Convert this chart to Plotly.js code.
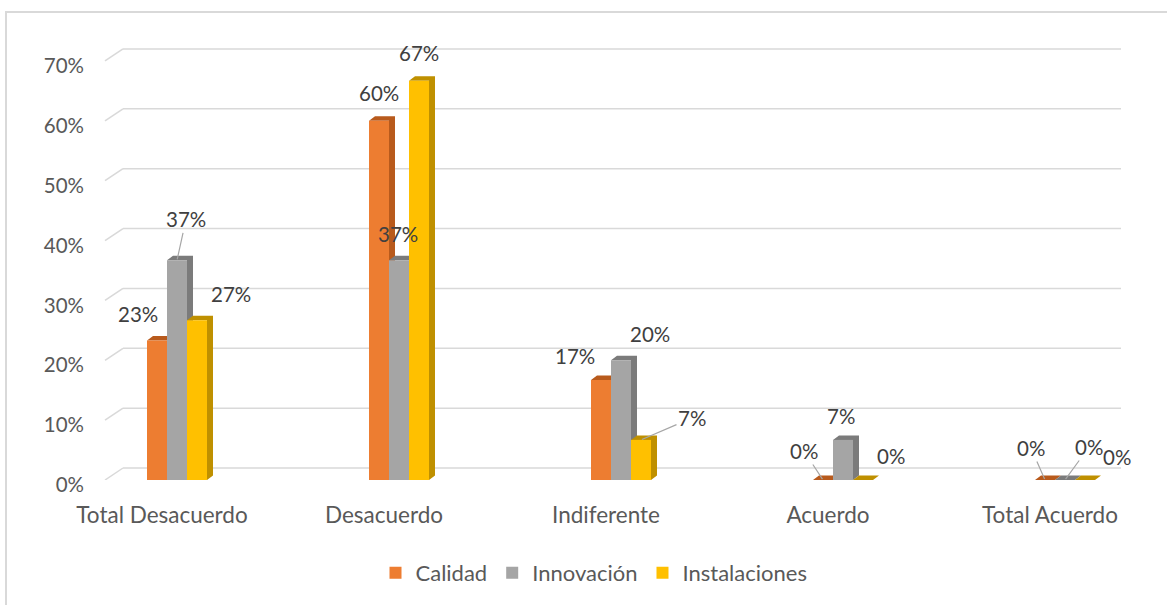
<!DOCTYPE html>
<html><head><meta charset="utf-8">
<script src="https://cdn.plot.ly/plotly-3.0.1.min.js"></script>
<style>
html,body{margin:0;padding:0;background:#fff;overflow:hidden}
#chart{position:absolute;left:0;top:0;width:1167px;height:605px}
#frame{position:absolute;left:5px;top:11px;width:1200px;height:700px;border:2px solid #d9d9d9;box-sizing:border-box;pointer-events:none}
</style></head><body>
<div id="chart"></div><div id="frame"></div>
<script>
// ---- data ----
const categories = ['Total Desacuerdo', 'Desacuerdo', 'Indiferente', 'Acuerdo', 'Total Acuerdo'];
const seriesNames = ['Calidad', 'Innovación', 'Instalaciones'];
const calidad = [0.233, 0.600, 0.167, 0.000, 0.000];
const innovacion = [0.367, 0.367, 0.200, 0.067, 0.000];
const instalaciones = [0.267, 0.667, 0.067, 0.000, 0.000];
const yTicks = [0, 0.1, 0.2, 0.3, 0.4, 0.5, 0.6, 0.7];

// ---- styling ----
const seriesValues = [calidad, innovacion, instalaciones];
const frontColors = ['#ED7D31', '#A5A5A5', '#FFC000'];
const sideColors = ['#B85A1C', '#7B7B7B', '#BF9000'];
// label offsets in px [dx, dy(down)], and whether a leader line is drawn
const labelOffsets = [
  [[-19, -27], [0, -28], [-26, -24], [-19, -29], [-14, -32]],
  [[9, -41], [-1, -26], [29, -26], [-2, -24], [24, -33]],
  [[34, -26], [0, -28], [51, -22], [28, -24], [32, -23]]
];
const leader = [
  [false, false, false, true, true],
  [true, false, false, false, true],
  [false, false, true, false, false]
];

const L = 105, R = 64, B = 124, T = 33;
const plotW = 1167 - L - R;          // 998
const plotH = 605 - T - B;           // 448
const pxPerUnitY = 600;
const pxPerCat = 222;
const barPx = 20;
const depthX = 6, depthYpx = 4.5;
const gridDX = 18, gridDY = 12;
const xMin = -72 / pxPerCat;
const xMax = xMin + plotW / pxPerCat;
const yMax = plotH / pxPerUnitY;
const barW = barPx / pxPerCat;
const depthY = depthYpx / pxPerUnitY;

const font = 'Lato, "Open Sans", sans-serif';
const xIdx = categories.map((c, i) => i);

const traces = seriesNames.map((name, s) => ({
  type: 'bar',
  name: name,
  x: xIdx,
  y: seriesValues[s],
  marker: {color: frontColors[s], line: {width: 0}},
  hoverinfo: 'skip'
}));

const shapes = [];
// gridlines on the back wall plus the short diagonal on the left side wall
yTicks.forEach(v => {
  shapes.push({type: 'line', layer: 'below', xref: 'paper', yref: 'y',
    xsizemode: 'pixel', xanchor: 0, ysizemode: 'pixel', yanchor: v,
    x0: gridDX, x1: gridDX + plotW, y0: gridDY, y1: gridDY,
    line: {color: '#d9d9d9', width: 1.5}});
  shapes.push({type: 'line', layer: 'below', xref: 'paper', yref: 'y',
    xsizemode: 'pixel', xanchor: 0, ysizemode: 'pixel', yanchor: v,
    x0: 0, x1: gridDX, y0: 0, y1: gridDY,
    line: {color: '#d9d9d9', width: 1.5}});
});
// 3D side + top faces of each bar
seriesValues.forEach((vals, s) => {
  vals.forEach((v, i) => {
    const xr = i + (s - 1) * barW + barW / 2;
    const path = `M0,0 L0,${v} L${-barPx},${v} L${-barPx + depthX},${v + depthY} L${depthX},${v + depthY} L${depthX},${depthY} Z`;
    shapes.push({type: 'path', layer: 'below', xref: 'x', yref: 'y',
      xsizemode: 'pixel', xanchor: xr, path: path,
      fillcolor: sideColors[s], line: {width: 0}});
  });
});

const annotations = [];
seriesValues.forEach((vals, s) => {
  vals.forEach((v, i) => {
    const xc = i + (s - 1) * barW;
    const [dx, dy] = labelOffsets[s][i];
    const a = {x: xc, y: v, xref: 'x', yref: 'y',
      text: Math.round(v * 100) + '%',
      font: {family: font, size: 20.5, color: '#404040'}};
    if (leader[s][i]) {
      Object.assign(a, {showarrow: true, arrowhead: 0, arrowwidth: 1.2,
        arrowcolor: '#a6a6a6', ax: dx, ay: dy, standoff: 1});
    } else {
      Object.assign(a, {showarrow: false, xshift: dx, yshift: -dy});
    }
    annotations.push(a);
  });
});

const layout = {
  width: 1167, height: 605,
  margin: {l: L, r: R, t: T, b: B, pad: 0},
  paper_bgcolor: '#ffffff', plot_bgcolor: 'rgba(0,0,0,0)',
  barmode: 'group', bargap: 1 - 3 * barPx / pxPerCat, bargroupgap: 0,
  font: {family: font, size: 20, color: '#595959'},
  xaxis: {range: [xMin, xMax], tickvals: xIdx, ticktext: categories,
    showgrid: false, zeroline: false, showline: false, ticks: '',
    ticklabelstandoff: 19, ticklabelshift: -15,
    tickfont: {family: font, size: 22.5, color: '#595959'}, fixedrange: true},
  yaxis: {range: [0, yMax], tickvals: yTicks, tickformat: '.0%',
    showgrid: false, zeroline: false, showline: false, ticks: '',
    ticklabelstandoff: 20, ticklabelshift: 5,
    tickfont: {family: font, size: 20.5, color: '#595959'}, fixedrange: true},
  legend: {orientation: 'h', x: (594 - L) / plotW, xanchor: 'center',
    y: (481 - 573) / plotH, yanchor: 'middle',
    font: {family: font, size: 22, color: '#595959'}, traceorder: 'normal'},
  shapes: shapes,
  annotations: annotations,
  showlegend: true
};

Plotly.newPlot('chart', traces, layout, {displayModeBar: false, staticPlot: true});
</script>
</body></html>
